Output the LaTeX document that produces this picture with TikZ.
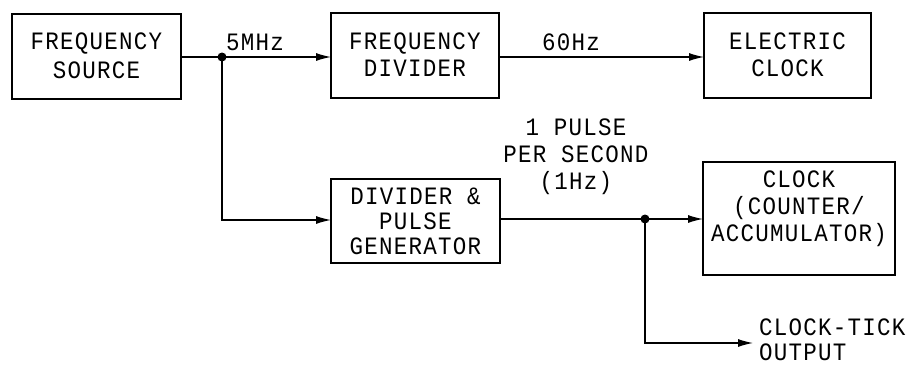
\documentclass[tikz,border=0pt]{standalone}
\usepackage{fontspec}
\usetikzlibrary{arrows.meta,calc}
\newfontfamily\lblfont[LetterSpace=5, FakeStretch=0.9]{Liberation Mono}
\tikzset{
  lbl/.style={font=\lblfont\fontsize{25}{27}\selectfont, align=center, inner sep=0pt},
  blk/.style={draw, line width=2pt, inner sep=0pt, outer sep=0pt, lbl},
  conn/.style={line width=1.2pt},
  arr/.style={conn, -{Latex[length=15pt,width=8pt]}},
  dotc/.style={fill=black}
}
\begin{document}
\begin{tikzpicture}[x=1pt,y=-1pt]
\useasboundingbox (0,0) rectangle (908,367);
\node[blk, minimum width=169pt, minimum height=85pt] (fs) at (96.5,56) {FREQUENCY\\[2pt]SOURCE};
\node[blk, minimum width=168pt, minimum height=85pt] (fd) at (415,55) {FREQUENCY\\DIVIDER};
\node[blk, minimum width=167pt, minimum height=85pt] (ec) at (787.5,55) {ELECTRIC\\CLOCK};
\node[blk, minimum width=169pt, minimum height=84pt] (dp) at (415.5,221) {DIVIDER \&\\[-2pt]PULSE\\[-2pt]GENERATOR};
\node[blk, minimum width=192pt, minimum height=113pt] (clk) at (799,218.5) {};
\node[lbl] (clktxt) at ([yshift=10pt]clk.center) {CLOCK\\(COUNTER/\\ACCUMULATOR)};

\coordinate (j1) at (222,57);
\coordinate (j2) at (645,219);
\coordinate (tick) at (753,343);

\draw[conn] (fs.east |- j1) -- (j1);
\draw[arr] (j1) -- (fd.west |- j1);
\draw[arr] (fd.east |- j1) -- (ec.west |- j1);
\draw[arr] (j1) |- (dp.west |- 0,220);
\draw[conn] (dp.east |- j2) -- (j2);
\draw[arr] (j2) -- (clk.west |- j2);
\draw[arr] (j2) |- (tick);
\fill[dotc] (j1) circle (4.5pt);
\fill[dotc] (j2) circle (4.5pt);

\node[lbl] (l5) at (255,42) {5MHz};
\node[lbl] (l60) at (571,42) {60Hz};
\node[lbl] (lpps) at (576,157) {1 PULSE\\PER SECOND\\(1Hz)};
\node[lbl, anchor=west, align=left] (lout) at (759,340) {CLOCK-TICK\\[-2pt]OUTPUT};
\end{tikzpicture}
\end{document}
